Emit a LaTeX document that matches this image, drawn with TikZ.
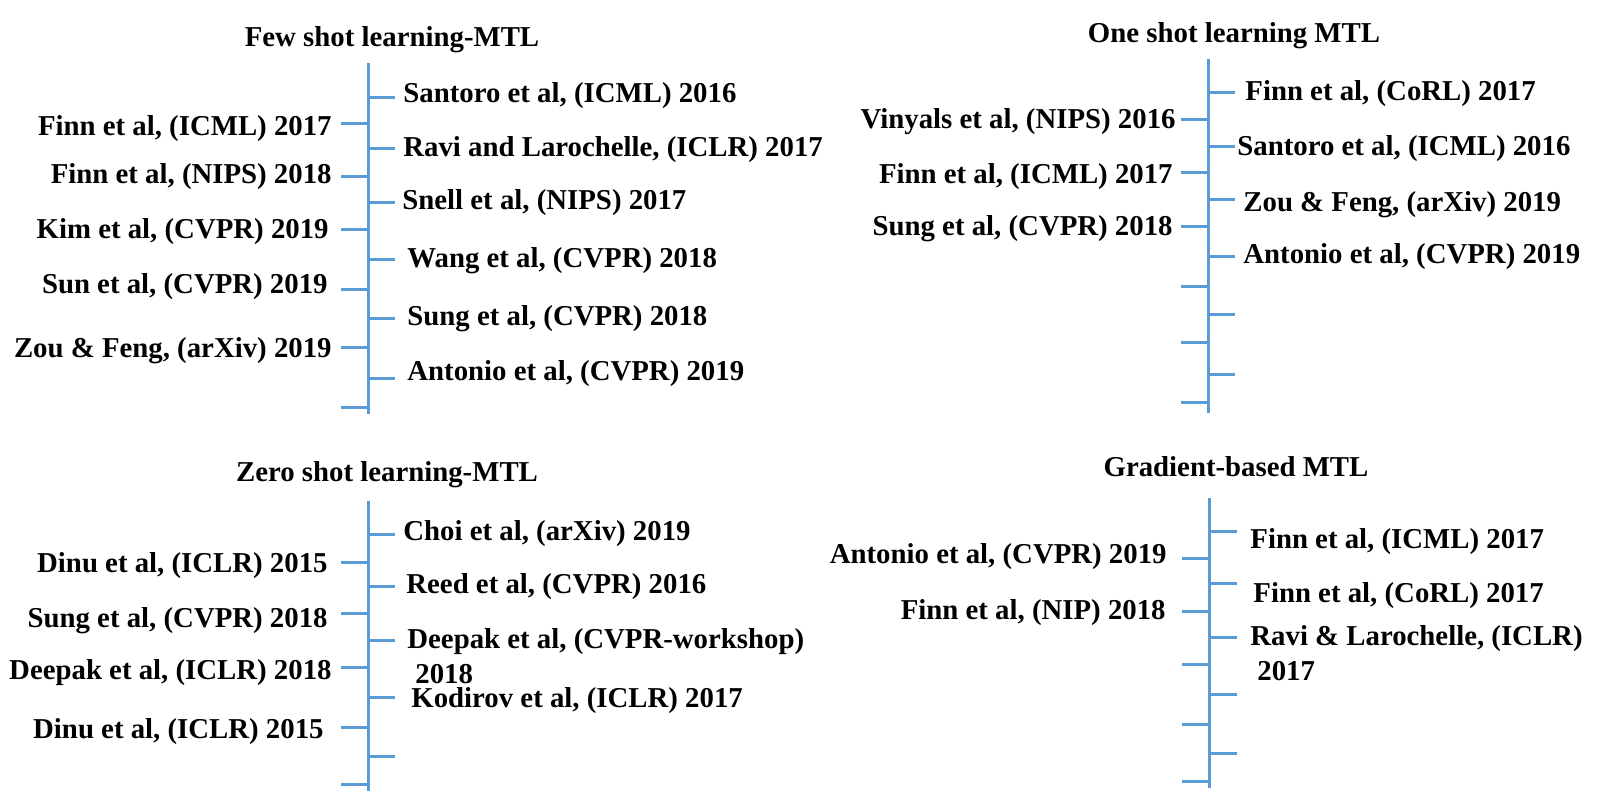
\documentclass[tikz,border=0pt]{standalone}
\usepackage{fontspec}
\setmainfont{Liberation Serif}
\definecolor{lineblue}{RGB}{91,155,213}
\begin{document}
\begin{tikzpicture}[x=0.5pt,y=-0.5pt,
  spine/.style={draw=lineblue,line width=1.5pt},
  tick/.style={draw=lineblue,line width=1.5pt},
  lab/.style={inner sep=0pt,font=\bfseries\fontsize{14.4}{17}\selectfont},
  ttl/.style={inner sep=0pt,anchor=base,font=\bfseries\fontsize{14.4}{17}\selectfont}]
\useasboundingbox (0,0) rectangle (1614,810);

% ---------- Panel 1: Few shot ----------
\node[ttl] (t1) at (392,46) {Few shot learning-MTL};
\coordinate (s1a) at (368,63); \coordinate (s1b) at (368,414);
\draw[spine] (s1a) -- (s1b);
\foreach \y in {97,148,202,259,318,378} \draw[tick] (368,\y) -- (395,\y);
\foreach \y in {123,176,229,289,347,407} \draw[tick] (341,\y) -- (368,\y);
\node[lab,anchor=base west] (r11) at (403,102) {Santoro et al, (ICML) 2016};
\node[lab,anchor=base west] (r12) at (403,156) {Ravi and Larochelle, (ICLR) 2017};
\node[lab,anchor=base west] (r13) at (402,209) {Snell et al, (NIPS) 2017};
\node[lab,anchor=base west] (r14) at (407,267) {Wang et al, (CVPR) 2018};
\node[lab,anchor=base west] (r15) at (407,325) {Sung et al, (CVPR) 2018};
\node[lab,anchor=base west] (r16) at (407,380) {Antonio et al, (CVPR) 2019};
\node[lab,anchor=base east] (l11) at (332,135) {Finn et al, (ICML) 2017};
\node[lab,anchor=base east] (l12) at (332,183) {Finn et al, (NIPS) 2018};
\node[lab,anchor=base east] (l13) at (329,238) {Kim et al, (CVPR) 2019};
\node[lab,anchor=base east] (l14) at (328,293) {Sun et al, (CVPR) 2019};
\node[lab,anchor=base east] (l15) at (332,357) {Zou \& Feng, (arXiv) 2019};

% ---------- Panel 2: One shot ----------
\node[ttl] (t2) at (1234,42) {One shot learning MTL};
\coordinate (s2a) at (1208,59); \coordinate (s2b) at (1208,413);
\draw[spine] (s2a) -- (s2b);
\foreach \y in {92,146,199,256,314,374} \draw[tick] (1208,\y) -- (1235,\y);
\foreach \y in {119,172,226,286,342,402} \draw[tick] (1181,\y) -- (1208,\y);
\node[lab,anchor=base west] (r21) at (1245,100) {Finn et al, (CoRL) 2017};
\node[lab,anchor=base west] (r22) at (1237,155) {Santoro et al, (ICML) 2016};
\node[lab,anchor=base west] (r23) at (1243,211) {Zou \& Feng, (arXiv) 2019};
\node[lab,anchor=base west] (r24) at (1243,263) {Antonio et al, (CVPR) 2019};
\node[lab,anchor=base east] (l21) at (1176,128) {Vinyals et al, (NIPS) 2016};
\node[lab,anchor=base east] (l22) at (1173,183) {Finn et al, (ICML) 2017};
\node[lab,anchor=base east] (l23) at (1173,235) {Sung et al, (CVPR) 2018};

% ---------- Panel 3: Zero shot ----------
\node[ttl] (t3) at (387,481) {Zero shot learning-MTL};
\coordinate (s3a) at (368,501); \coordinate (s3b) at (368,791);
\draw[spine] (s3a) -- (s3b);
\foreach \y in {534,586,640,697,756} \draw[tick] (368,\y) -- (395,\y);
\foreach \y in {562,613,667,727,784} \draw[tick] (341,\y) -- (368,\y);
\node[lab,anchor=base west] (r31) at (403,540) {Choi et al, (arXiv) 2019};
\node[lab,anchor=base west] (r32) at (406,593) {Reed et al, (CVPR) 2016};
\node[lab,anchor=base west] (r33) at (407,648) {Deepak et al, (CVPR-workshop)};
\node[lab,anchor=base west] (r33b) at (415,683) {2018};
\node[lab,anchor=base west] (r34) at (411,707) {Kodirov et al, (ICLR) 2017};
\node[lab,anchor=base east] (l31) at (328,572) {Dinu et al, (ICLR) 2015};
\node[lab,anchor=base east] (l32) at (328,627) {Sung et al, (CVPR) 2018};
\node[lab,anchor=base east] (l33) at (332,679) {Deepak et al, (ICLR) 2018};
\node[lab,anchor=base east] (l34) at (324,738) {Dinu et al, (ICLR) 2015};

% ---------- Panel 4: Gradient-based ----------
\node[ttl] (t4) at (1236,476) {Gradient-based MTL};
\coordinate (s4a) at (1209,498); \coordinate (s4b) at (1209,788);
\draw[spine] (s4a) -- (s4b);
\foreach \y in {531,583,637,694,753} \draw[tick] (1209,\y) -- (1237,\y);
\foreach \y in {558,611,664,724,781} \draw[tick] (1182,\y) -- (1209,\y);
\node[lab,anchor=base west] (r41) at (1250,548) {Finn et al, (ICML) 2017};
\node[lab,anchor=base west] (r42) at (1253,602) {Finn et al, (CoRL) 2017};
\node[lab,anchor=base west] (r43) at (1250,645) {Ravi \& Larochelle, (ICLR)};
\node[lab,anchor=base west] (r43b) at (1257,680) {2017};
\node[lab,anchor=base east] (l41) at (1167,563) {Antonio et al, (CVPR) 2019};
\node[lab,anchor=base east] (l42) at (1166,619) {Finn et al, (NIP) 2018};
\end{tikzpicture}
\end{document}
